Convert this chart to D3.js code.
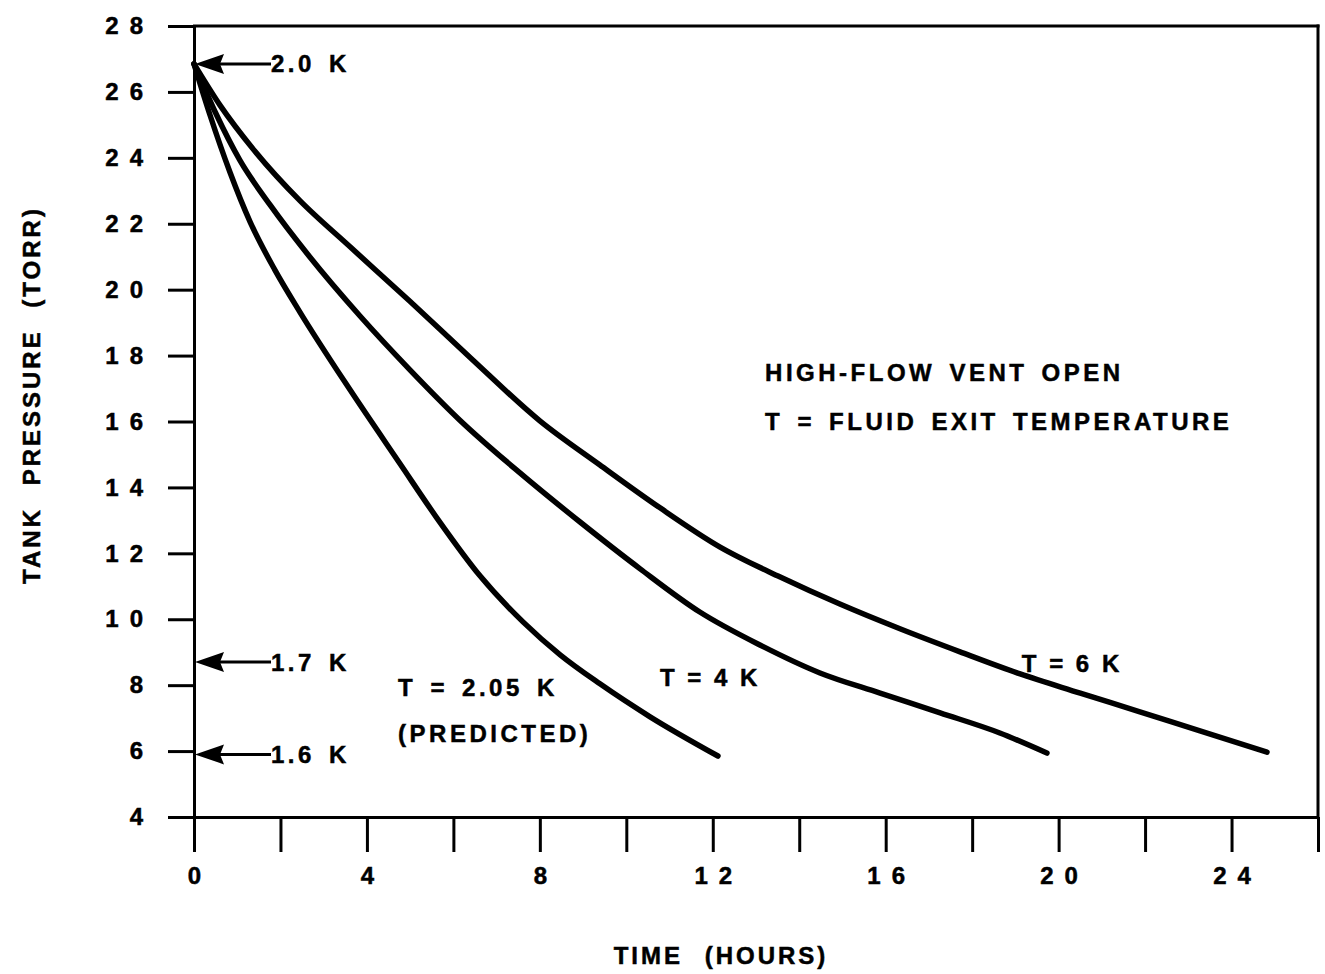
<!DOCTYPE html>
<html><head><meta charset="utf-8">
<script src="https://cdn.jsdelivr.net/npm/d3@7"></script>
<style>
body{margin:0;background:#fff;}
svg{display:block;background:#fff;}
text{font-family:"Liberation Sans",Arial,Helvetica,sans-serif;font-weight:bold;fill:#000;stroke:#000;stroke-width:0.5px;}
</style></head><body>
<svg id="chart" width="1325" height="974"></svg>
<script>
// ---- data ----
const xTickValues = [0,2,4,6,8,10,12,14,16,18,20,22,24,26];
const xTickLabels = ["0","","4","","8","","12","","16","","20","","24",""];
const yTickValues = [4,6,8,10,12,14,16,18,20,22,24,26,28];
const yTickLabels = ["4","6","8","10","12","14","16","18","20","22","24","26","28"];

// T = 2.05 K (predicted)
const hours205 = [0,0.37,0.83,1.30,1.87,2.45,3.61,4.77,5.62,6.62,7.61,8.47,9.39,10.55,12.12];
const torr205  = [26.85,25.30,23.57,22.05,20.60,19.32,16.96,14.71,13.07,11.31,9.92,8.92,8.04,7.04,5.85];
// T = 4 K
const hours4 = [0,0.49,1.06,1.76,2.68,3.84,5.00,6.15,7.54,8.93,10.32,11.70,13.09,14.48,15.87,17.26,18.64,19.73];
const torr4  = [26.85,25.39,23.93,22.57,20.99,19.20,17.56,16.04,14.44,12.95,11.53,10.22,9.22,8.37,7.76,7.16,6.55,5.94];
// T = 6 K
const hours6 = [0,0.60,1.41,2.45,3.61,5.00,6.38,8.00,9.39,10.78,12.17,13.56,14.94,16.33,17.72,19.11,20.50,21.88,23.27,24.82];
const torr6  = [26.85,25.60,24.20,22.70,21.30,19.64,17.95,16.02,14.68,13.38,12.19,11.28,10.46,9.71,9.01,8.34,7.76,7.19,6.61,5.97];

// saturation-temperature markers on the pressure axis
const markerLabels = ["2.0  K","1.7  K","1.6  K"];
const markerTorr   = [26.85, 8.7, 5.9];

// ---- drawing ----
const svg = d3.select("#chart");
const x = d3.scaleLinear().domain([0,26]).range([194,1318]);
const y = d3.scaleLinear().domain([4,28]).range([817,26]);

const bodyStyle = "letter-spacing:3.5px;word-spacing:4px;font-size:24px";
const tightStyle = "letter-spacing:2px;word-spacing:2px;font-size:24px";

// axes
const gy = svg.append("g").attr("transform",`translate(${x(0)},0)`)
  .call(d3.axisLeft(y).tickValues(yTickValues).tickSize(26).tickSizeOuter(0).tickPadding(14)
        .tickFormat((d,i)=>yTickLabels[i]));
const gx = svg.append("g").attr("transform",`translate(0,${y(4)})`)
  .call(d3.axisBottom(x).tickValues(xTickValues).tickSize(35).tickSizeOuter(0).tickPadding(15)
        .tickFormat((d,i)=>xTickLabels[i]));
[gx,gy].forEach(g=>{
  g.selectAll("path.domain").attr("stroke","#000").attr("stroke-width",3);
  g.selectAll(".tick line").attr("stroke","#000").attr("stroke-width",3);
  g.selectAll(".tick text").attr("fill","#000").attr("stroke","#000").attr("stroke-width",0.5)
    .style("font-family",'"Liberation Sans",Arial,sans-serif')
    .style("font-weight","bold").style("font-size","24px").style("letter-spacing","11px");
});
gx.selectAll(".tick text").attr("dx","5.5px");

// frame: top and right borders
svg.append("line").attr("x1",x(0)-1).attr("x2",x(26)+1.5).attr("y1",y(28)).attr("y2",y(28))
  .attr("stroke","#000").attr("stroke-width",3);
svg.append("line").attr("x1",x(26)).attr("x2",x(26)).attr("y1",y(28)-1.5).attr("y2",y(4))
  .attr("stroke","#000").attr("stroke-width",3);

// curves
const series = [
  {h:hours205, p:torr205},
  {h:hours4,   p:torr4},
  {h:hours6,   p:torr6}
];
const line = d3.line().x(d=>x(d[0])).y(d=>y(d[1])).curve(d3.curveMonotoneX);
svg.append("g").selectAll("path").data(series).join("path")
  .attr("d",s=>line(s.h.map((v,i)=>[v,s.p[i]])))
  .attr("fill","none").attr("stroke","#000").attr("stroke-width",5.5)
  .attr("stroke-linecap","round").attr("stroke-linejoin","round");

// markers (arrows on pressure axis)
const mk = svg.append("g").selectAll("g").data(markerTorr).join("g")
  .attr("transform",d=>`translate(${x(0)+1},${y(d)})`);
mk.append("path").attr("d","M0,0L29,-10L25,0L29,10Z").attr("fill","#000");
mk.append("line").attr("x1",22).attr("x2",76).attr("y1",0).attr("y2",0)
  .attr("stroke","#000").attr("stroke-width",3);
mk.append("text").attr("x",76).attr("y",0).attr("dominant-baseline","central")
  .attr("style",bodyStyle)
  .text((d,i)=>markerLabels[i]);

// annotations
function label(txt,hx,py,style){
  svg.append("text").attr("x",x(hx)).attr("y",y(py)).attr("dominant-baseline","central")
    .attr("style",style||bodyStyle).text(txt);
}
label("T = 2.05 K",4.72,7.92);
label("(PREDICTED)",4.72,6.52);
label("T = 4 K",10.78,8.22,tightStyle);
label("T = 6 K",19.15,8.65,tightStyle);
label("HIGH-FLOW  VENT  OPEN",13.21,17.5);
label("T = FLUID  EXIT  TEMPERATURE",13.21,16.0);

// axis titles
svg.append("text").attr("x",721).attr("y",955).attr("text-anchor","middle")
  .attr("dominant-baseline","central").attr("style","letter-spacing:3px;word-spacing:12px;font-size:24px")
  .text("TIME (HOURS)");
svg.append("text").attr("transform","translate(31,395) rotate(-90)").attr("text-anchor","middle")
  .attr("dominant-baseline","central").attr("style","letter-spacing:3px;word-spacing:12px;font-size:24px")
  .text("TANK PRESSURE (TORR)");
</script>
</body></html>
